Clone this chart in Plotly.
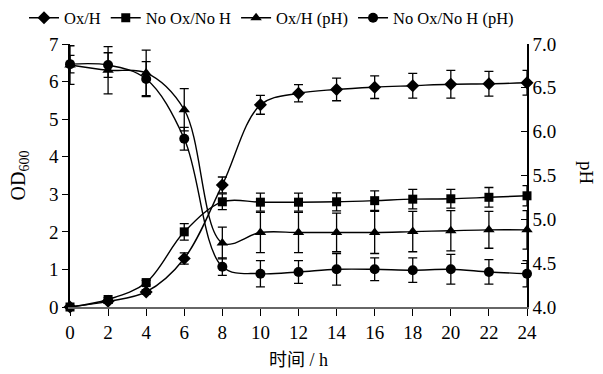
import plotly.graph_objects as go

time_h = [0, 2, 4, 6, 8, 10, 12, 14, 16, 18, 20, 22, 24]

od_ox_h = [0.0, 0.15, 0.4, 1.29, 3.25, 5.38, 5.69, 5.79, 5.85, 5.89, 5.93, 5.94, 5.97]
od_ox_h_err = [0.03, 0.05, 0.06, 0.15, 0.21, 0.25, 0.23, 0.3, 0.3, 0.33, 0.37, 0.33, 0.33]

od_no = [0.0, 0.2, 0.65, 2.0, 2.8, 2.79, 2.79, 2.8, 2.83, 2.87, 2.88, 2.92, 2.96]
od_no_err = [0.03, 0.05, 0.06, 0.22, 0.21, 0.24, 0.24, 0.24, 0.26, 0.26, 0.25, 0.26, 0.27]

ph_ox_h = [6.76, 6.70, 6.67, 6.25, 4.73, 4.85, 4.85, 4.85, 4.85, 4.86, 4.87, 4.88, 4.88]
ph_ox_h_err = [0.22, 0.27, 0.26, 0.24, 0.18, 0.23, 0.23, 0.22, 0.24, 0.23, 0.23, 0.21, 0.22]

ph_no = [6.77, 6.76, 6.60, 5.92, 4.46, 4.38, 4.40, 4.43, 4.43, 4.42, 4.43, 4.40, 4.38]
ph_no_err = [0.1, 0.14, 0.2, 0.13, 0.1, 0.15, 0.13, 0.18, 0.13, 0.14, 0.17, 0.14, 0.15]

names = ["Ox/H", "No Ox/No H", "Ox/H (pH)", "No Ox/No H (pH)"]
symbols = ["diamond", "square", "triangle-up", "circle"]
sizes = [10, 9, 10, 10]

FONT = "Liberation Serif, Times New Roman, serif"

L, R, T, B = 70, 76, 44, 67
W, H = 603, 374
PW, PH = W - L - R, H - T - B

fig = go.Figure()
series = [(od_ox_h, od_ox_h_err, "y"), (od_no, od_no_err, "y"),
          (ph_ox_h, ph_ox_h_err, "y2"), (ph_no, ph_no_err, "y2")]
for (vals, errs, ax), nm, sym, sz in zip(series, names, symbols, sizes):
    fig.add_trace(go.Scatter(
        x=time_h, y=vals, name=nm, yaxis=ax, mode="lines+markers",
        line=dict(color="black", width=1.4, shape="spline", smoothing=1.0),
        marker=dict(symbol=sym, size=sz, color="black"),
        error_y=dict(type="data", array=errs, visible=True, color="black",
                     thickness=1.3, width=4.5),
        cliponaxis=False,
    ))

fig.update_layout(
    width=W, height=H,
    margin=dict(l=L, r=R, t=T, b=B, autoexpand=False),
    paper_bgcolor="white", plot_bgcolor="white",
    font=dict(family=FONT, size=17, color="black"),
    showlegend=True,
    legend=dict(orientation="h", x=(24 - L) / PW, xanchor="left",
                y=1 + (T - 18) / PH, yanchor="middle",
                font=dict(size=16.5, family=FONT), itemwidth=30, tracegroupgap=0,
                bgcolor="rgba(0,0,0,0)"),
    xaxis=dict(range=[0, 24], tickvals=time_h, ticks="outside", ticklen=7,
               tickcolor="black", showline=True, linecolor="#666666", linewidth=1.5,
               showgrid=False, zeroline=False, tickfont=dict(size=19), automargin=False,
               title=dict(text="时间 / h",
                          font=dict(size=18, family="Liberation Serif, Noto Sans CJK SC"),
                          standoff=12)),
    yaxis=dict(range=[0, 7], dtick=1, ticks="outside", ticklen=6, tickcolor="black",
               showline=True, linecolor="black", linewidth=1.5, showgrid=False,
               zeroline=False, tickfont=dict(size=19), automargin=False,
               title=dict(text="OD<sub>600</sub>", font=dict(size=20), standoff=18)),
    yaxis2=dict(range=[4, 7], dtick=0.5, tickformat=".1f", overlaying="y", side="right",
                ticks="inside", ticklen=6, tickcolor="black", showline=True,
                linecolor="black", linewidth=1.5, showgrid=False, zeroline=False,
                tickfont=dict(size=19), automargin=False),
    annotations=[dict(text="pH", textangle=90, x=(587 - L) / PW, y=(307 - 173) / PH,
                      xref="paper", yref="paper", xanchor="center", yanchor="middle",
                      showarrow=False, font=dict(size=19, family=FONT))],
)

fig.write_html("out.html", config={"displayModeBar": False},
               post_script="document.body.style.margin='0';")
